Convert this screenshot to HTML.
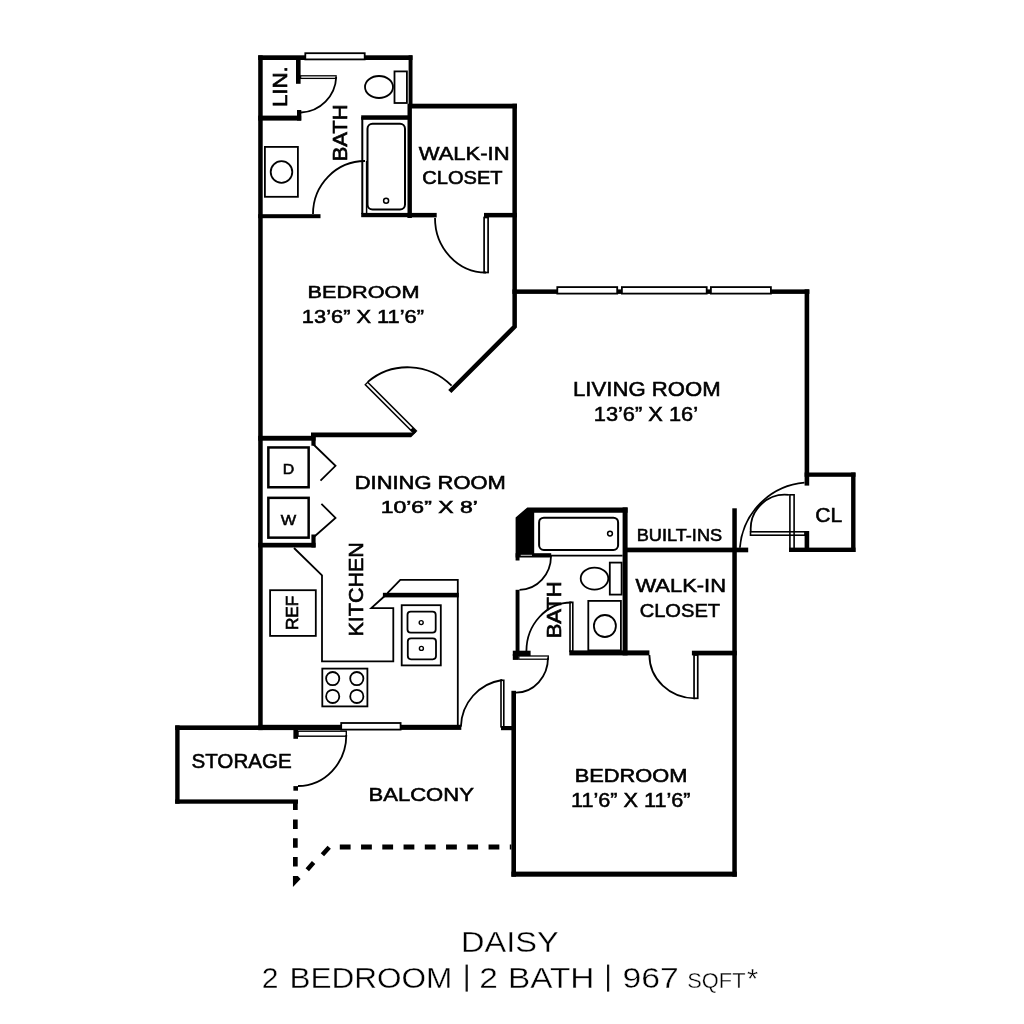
<!DOCTYPE html>
<html><head><meta charset="utf-8"><style>
html,body{margin:0;padding:0;background:#fff;width:1024px;height:1024px;overflow:hidden}
svg{display:block}
text{font-family:"Liberation Sans",sans-serif;fill:#000}
.lb{stroke:#000;stroke-width:0.55}
.lr{stroke:#000;stroke-width:0.65}
.bt{fill:#000;stroke:#fff;stroke-width:0.35}
</style></head><body>
<svg width="1024" height="1024" viewBox="0 0 1024 1024">
<rect width="1024" height="1024" fill="#fff"/>
<!-- WALLS -->
<g fill="#000">
<!-- upper block -->
<rect x="258.2" y="55.3" width="4.5" height="674.8"/>
<rect x="258.2" y="55.3" width="47" height="4.7"/>
<rect x="364.5" y="55.3" width="48" height="4.7"/>
<rect x="408.6" y="55.3" width="3.9" height="52"/>
<rect x="407.5" y="104" width="4.4" height="114"/>
<rect x="408" y="103.7" width="109" height="4.8"/>
<rect x="407.5" y="212.9" width="29.2" height="4.5"/>
<rect x="484" y="212.9" width="32.9" height="4.5"/>
<rect x="258.2" y="214.2" width="62.3" height="4"/>
<rect x="361.2" y="115.3" width="48.8" height="4.5"/>
<rect x="361.2" y="212.9" width="48.8" height="4.3"/>
<rect x="296" y="60" width="4.6" height="23.8"/>
<rect x="297" y="110" width="4.3" height="10.6"/>
<rect x="258.2" y="115.6" width="43" height="5"/>
<!-- living top -->
<rect x="512.4" y="289.4" width="297" height="4.5"/>
<!-- dining top / wd -->
<rect x="258.2" y="435.8" width="57.4" height="4.9"/>
<rect x="311.4" y="433.3" width="4.2" height="12.4"/>
<rect x="258.2" y="542.8" width="57.4" height="4.7"/>
<rect x="311.4" y="534.5" width="4.2" height="13"/>
<!-- living right / CL -->
<rect x="804.6" y="289.3" width="4.6" height="196.3"/>
<rect x="804.6" y="472.5" width="50.9" height="4.3"/>
<rect x="851.1" y="472.5" width="4.4" height="79.5"/>
<rect x="789" y="547.6" width="66.5" height="4.4"/>
<rect x="804.6" y="531" width="4.6" height="21"/>
<!-- built-ins -->
<rect x="627" y="547.6" width="121.2" height="4.7"/>
<rect x="732.3" y="508.3" width="4.5" height="368.4"/>
<!-- bath 2 -->
<path d="M515.6,517.6 L527.3,507.4 L627.6,507.4 L627.6,512.7 L534.2,512.7 L534.2,556.6 L519.5,556.6 L519.5,560.5 L515.6,560.5 Z"/>
<rect x="622.6" y="507.4" width="5" height="148"/>
<rect x="569.3" y="650.4" width="80.1" height="5"/>
<rect x="691.9" y="650.7" width="44.9" height="4.7"/>
<rect x="515.6" y="589.8" width="3.9" height="64.5"/>
<rect x="511.4" y="690.8" width="4.6" height="185.9"/>
<rect x="511.4" y="871.6" width="225.4" height="5.1"/>
<rect x="501" y="726" width="11.4" height="4.2"/>
<!-- kitchen bottom -->
<rect x="258.2" y="724.8" width="83.5" height="5.3"/>
<rect x="401" y="724.8" width="60.3" height="5.1"/>
<!-- storage -->
<rect x="175.2" y="725.4" width="123" height="4.6"/>
<rect x="175.2" y="725.4" width="4.4" height="78.3"/>
<rect x="175.2" y="799.4" width="122.8" height="4.3"/>
<rect x="293.4" y="730" width="4.6" height="8.8"/>
<rect x="293.4" y="786.1" width="4.6" height="4.6"/>
</g>
<!-- diagonal bedroom wall -->
<path d="M514.65,103.7 V326.65 L449.8,391.5" stroke="#000" stroke-width="4.5" fill="none" stroke-miterlimit="10"/>
<polygon points="311,432.6 414,432.6 417.7,430.8 411.1,437.3 311,437.3" fill="#000"/>

<!-- WINDOWS -->
<g fill="#fff" stroke="#000" stroke-width="1.8">
<rect x="305.3" y="53.2" width="59.4" height="6.2"/>
<rect x="557.3" y="287.1" width="59.9" height="6.5"/>
<rect x="621.9" y="287.1" width="84.8" height="6.5"/>
<rect x="710.9" y="287.1" width="60" height="6.5"/>
<rect x="341.2" y="723" width="59.4" height="6.6"/>
</g>

<!-- FIXTURES / DOORS thin lines -->
<g fill="none" stroke="#000" stroke-width="1.8">
<!-- toilet 1 -->
<rect x="394.5" y="71.4" width="12.4" height="31.6"/>
<ellipse cx="379" cy="87" rx="14" ry="11"/>
<!-- tub 1 -->
<line x1="362.3" y1="117" x2="362.3" y2="214" stroke-width="2"/>
<line x1="366.6" y1="161" x2="366.6" y2="213" stroke-width="1.5"/>
<rect x="367.5" y="123.8" width="37.5" height="85.6" rx="5" stroke-width="2"/>
<circle cx="386.1" cy="200.8" r="2.5" stroke-width="1.5"/>
<!-- sink 1 -->
<rect x="264.9" y="146.9" width="33" height="49.9"/>
<circle cx="281.5" cy="172" r="10.8"/>
<!-- linen door -->
<rect x="300.6" y="75.8" width="35.5" height="2.6" stroke-width="1.3"/>
<path d="M336.2,77 A37,37 0 0 1 301,112.5"/>
<!-- bath1 door -->
<path d="M313,214 A52,53 0 0 1 365,161"/>
<!-- walk-in 1 door -->
<rect x="484.1" y="217.5" width="4" height="55" stroke-width="1.7"/>
<path d="M435,218 A51,54.5 0 0 0 486,272.5"/>
</g>

<g fill="none" stroke="#000" stroke-width="1.8">
<!-- bifolds -->
<polyline points="313,444 335.5,465.8 320.5,480.6"/>
<polyline points="321.4,503.8 335.5,517.9 313.9,537"/>
<!-- washer/dryer boxes -->
<rect x="268.35" y="447.45" width="40.3" height="39.8" stroke-width="2.5"/>
<rect x="268.35" y="497.85" width="40.3" height="39.8" stroke-width="2.5"/>
<!-- kitchen counter -->
<polyline points="294,548 322,575.4 322,661.3 393.3,661.3 393.3,608.1 371.3,608.1 384.7,596"/>
<polyline points="387.4,593.1 400.3,579.9 457.8,579.9 457.8,726"/>
<!-- sink -->
<rect x="401.7" y="605.2" width="39.1" height="60.2"/>
<rect x="407.5" y="611.6" width="28.2" height="21" rx="3.2"/>
<rect x="407.8" y="638.3" width="28.2" height="21" rx="3.2"/>
<circle cx="421.2" cy="622.6" r="2" stroke-width="1.4"/>
<circle cx="421.4" cy="648.4" r="2" stroke-width="1.4"/>
<!-- ref -->
<rect x="270.1" y="590.2" width="45.7" height="45.7"/>
<!-- stove -->
<rect x="322.3" y="668.6" width="45.1" height="37.8"/>
<circle cx="332.7" cy="678.6" r="6.6"/>
<circle cx="356.8" cy="678.6" r="6.6"/>
<circle cx="332.7" cy="696.4" r="6.6"/>
<circle cx="356.8" cy="696.4" r="6.6"/>
<!-- storage door -->
<rect x="298" y="731.2" width="48.3" height="5" stroke-width="1.4"/>
<path d="M346.3,735 A48.3,51 0 0 1 298,786"/>
<!-- balcony door -->
<rect x="501" y="680.3" width="2.8" height="46.5" stroke-width="1.6"/>
<path d="M460.9,726.7 A48.3,48.3 0 0 1 502.3,680"/>
<!-- bath2 lower door -->
<rect x="518.8" y="656" width="29.5" height="3.2" stroke-width="1.3"/>
<path d="M548,657.5 A32,35 0 0 1 516,692.6"/>
<!-- bath2 upper door -->
<path d="M551,556 A31.5,33.8 0 0 1 519.5,589.8"/>
<!-- bath2 interior door -->
<rect x="570" y="602.3" width="2.8" height="49" stroke-width="1.6"/>
<path d="M571.5,602.5 A45,48.8 0 0 0 526.4,651.3"/>
<!-- walk-in 2 door -->
<rect x="694.05" y="655" width="3.7" height="43.3" stroke-width="1.7"/>
<path d="M649.4,655 A45.6,43.3 0 0 0 695,698.3"/>
<!-- CL doors -->
<rect x="789.9" y="494.8" width="4.2" height="56" stroke-width="1.6"/>
<rect x="750.5" y="531.8" width="54.5" height="3.4" stroke-width="1.6"/>
<path d="M788.9,494.9 A34.3,34.3 0 0 0 750.8,531.5"/>
<path d="M804.5,482.7 A70.8,70.8 0 0 0 739.9,547.8"/>
<!-- tub 2 -->
<line x1="551" y1="555.6" x2="622.6" y2="555.6"/>
<rect x="539.1" y="517.7" width="79" height="32.2" rx="4.7" stroke-width="2"/>
<circle cx="610" cy="533.6" r="2.4" stroke-width="1.5"/>
<!-- toilet 2 -->
<rect x="609.8" y="562.6" width="11.8" height="32"/>
<ellipse cx="594.5" cy="578.6" rx="13.8" ry="11"/>
<!-- sink 2 -->
<rect x="588.3" y="600.9" width="32.6" height="49.5"/>
<circle cx="604.9" cy="626" r="11"/>
</g>
<!-- bedroom door leaf double line -->
<path d="M366,383 L415.5,432.5" stroke="#000" stroke-width="5" fill="none"/>
<path d="M366.9,383.9 L411.6,428.6" stroke="#fff" stroke-width="2" fill="none"/>
<path d="M367.8,381.9 A61.6,61.6 0 0 1 451.6,385.7" stroke="#000" stroke-width="1.8" fill="none"/>
<!-- bath2 upper leaf block -->
<rect x="515.6" y="553.2" width="35.6" height="4.3" fill="#000"/>
<line x1="520.7" y1="555.3" x2="532" y2="555.3" stroke="#fff" stroke-width="0.8"/>
<!-- bath2 lower block -->
<rect x="512.8" y="650.7" width="17.8" height="5.3" fill="#000"/>
<rect x="512.8" y="654" width="5.5" height="5.9" fill="#000"/>
<!-- dashed rails -->
<g stroke="#000" fill="none">
<path d="M295.35,800.6 V875" stroke-width="4.7" stroke-dasharray="9.5,9.3"/>
<path d="M307.25,869.75 L313.6,862.45 M322.4,854.85 L329.2,847.25" stroke-width="4.5"/>
<path d="M339.8,847.1 H511.4" stroke-width="5" stroke-dasharray="10.8,10.45"/>
</g>
<polygon points="292.95,876 297.8,876 300.6,879 292.95,886.9" fill="#000"/>
<rect x="382.9" y="592.8" width="75.9" height="4.6" fill="#000"/>
<rect x="465.6" y="964.6" width="2.2" height="27" fill="#111"/>
<rect x="607" y="964.6" width="2.2" height="27" fill="#111"/>
</svg>
<svg style="position:absolute;left:0;top:0;will-change:transform" width="1024" height="1024" viewBox="0 0 1024 1024">
<text class="lb" x="418.72" y="159.70" font-size="18.83" textLength="90.89" lengthAdjust="spacingAndGlyphs">WALK-IN</text>
<text class="lb" x="422.26" y="184.30" font-size="17.65" textLength="80.32" lengthAdjust="spacingAndGlyphs">CLOSET</text>
<text class="lb" x="307.58" y="298.40" font-size="16.69" textLength="111.93" lengthAdjust="spacingAndGlyphs">BEDROOM</text>
<text class="lb" x="301.89" y="323.00" font-size="19.13" textLength="122.15" lengthAdjust="spacingAndGlyphs">13’6” X 11’6”</text>
<text class="lb" x="573.03" y="395.70" font-size="19.95" textLength="147.62" lengthAdjust="spacingAndGlyphs">LIVING ROOM</text>
<text class="lb" x="593.79" y="420.50" font-size="19.69" textLength="104.20" lengthAdjust="spacingAndGlyphs">13’6” X 16’</text>
<text class="lb" x="354.71" y="489.00" font-size="17.85" textLength="151.06" lengthAdjust="spacingAndGlyphs">DINING ROOM</text>
<text class="lb" x="380.65" y="513.30" font-size="16.59" textLength="97.21" lengthAdjust="spacingAndGlyphs">10’6” X 8’</text>
<text class="lb" x="282.77" y="473.50" font-size="14.68" textLength="11.47" lengthAdjust="spacingAndGlyphs">D</text>
<text class="lb" x="280.70" y="525.10" font-size="14.75" textLength="15.42" lengthAdjust="spacingAndGlyphs">W</text>
<text class="lb" x="191.41" y="767.50" font-size="20.56" textLength="100.41" lengthAdjust="spacingAndGlyphs">STORAGE</text>
<text class="lb" x="368.49" y="800.50" font-size="19.08" textLength="105.42" lengthAdjust="spacingAndGlyphs">BALCONY</text>
<text class="lb" x="636.72" y="541.10" font-size="16.49" textLength="85.38" lengthAdjust="spacingAndGlyphs">BUILT-INS</text>
<text class="lb" x="635.47" y="592.40" font-size="19.00" textLength="90.48" lengthAdjust="spacingAndGlyphs">WALK-IN</text>
<text class="lb" x="639.68" y="616.70" font-size="19.14" textLength="80.46" lengthAdjust="spacingAndGlyphs">CLOSET</text>
<text class="lb" x="815.24" y="521.90" font-size="19.51" textLength="26.95" lengthAdjust="spacingAndGlyphs">CL</text>
<text class="lb" x="574.68" y="782.20" font-size="17.56" textLength="112.66" lengthAdjust="spacingAndGlyphs">BEDROOM</text>
<text class="lb" x="571.02" y="806.80" font-size="20.86" textLength="119.57" lengthAdjust="spacingAndGlyphs">11’6” X 11’6”</text>
<text class="lr" transform="translate(286.70,107.12) rotate(-90)" x="0" y="0" font-size="21.05" textLength="40.93" lengthAdjust="spacingAndGlyphs">LIN.</text>
<text class="lr" transform="translate(346.90,161.33) rotate(-90)" x="0" y="0" font-size="19.37" textLength="56.98" lengthAdjust="spacingAndGlyphs">BATH</text>
<text class="lr" transform="translate(362.70,636.47) rotate(-90)" x="0" y="0" font-size="20.83" textLength="94.36" lengthAdjust="spacingAndGlyphs">KITCHEN</text>
<text class="lr" transform="translate(297.80,630.09) rotate(-90)" x="0" y="0" font-size="16.86" textLength="34.35" lengthAdjust="spacingAndGlyphs">REF</text>
<text class="lr" transform="translate(561.10,638.29) rotate(-90)" x="0" y="0" font-size="19.32" textLength="57.01" lengthAdjust="spacingAndGlyphs">BATH</text>
<text class="bt" x="461.12" y="952.10" font-size="29.57" textLength="97.64" lengthAdjust="spacingAndGlyphs">DAISY</text>
<text class="bt" x="261.81" y="987.80" font-size="29.67" textLength="16.74" lengthAdjust="spacingAndGlyphs">2</text>
<text class="bt" x="289.45" y="987.80" font-size="29.34" textLength="162.90" lengthAdjust="spacingAndGlyphs">BEDROOM</text>
<text class="bt" x="479.34" y="987.80" font-size="29.98" textLength="18.60" lengthAdjust="spacingAndGlyphs">2</text>
<text class="bt" x="507.98" y="987.80" font-size="29.34" textLength="86.46" lengthAdjust="spacingAndGlyphs">BATH</text>
<text class="bt" x="622.49" y="988.00" font-size="29.67" textLength="56.26" lengthAdjust="spacingAndGlyphs">967</text>
<text class="bt" x="687.20" y="988.00" font-size="21.48" textLength="58.31" lengthAdjust="spacingAndGlyphs">SQFT</text>
<text class="bt" x="747.12" y="987.57" font-size="28.38" textLength="11.10" lengthAdjust="spacingAndGlyphs">*</text>
</svg>
</body></html>
